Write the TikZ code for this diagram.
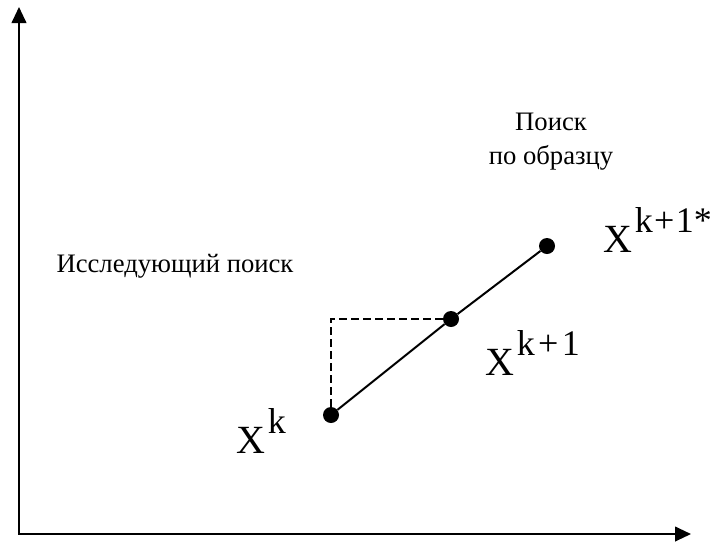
\documentclass[tikz,border=0pt]{standalone}
\usepackage{fontspec}
\setmainfont{Liberation Serif}
\newfontfamily\rufont[Script=Cyrillic]{Liberation Serif}
\usetikzlibrary{arrows.meta}
\newcommand\bigX[1]{{\fontsize{30}{30}\selectfont X\hspace{2pt}\raisebox{14.5pt}{\fontsize{27}{27}\selectfont #1}}}

\begin{document}
\begin{tikzpicture}[x=0.75pt,y=-0.75pt,>={Triangle[length=12pt,width=11pt]}]
\tikzstyle{axis}=[line width=1.5pt]
\tikzstyle{dot}=[circle,fill=black,inner sep=0pt,minimum size=12pt]
\tikzstyle{lbl}=[inner sep=0pt,font=\rufont\fontsize{20}{25}\selectfont]
\tikzstyle{pt}=[inner sep=0pt,anchor=base west]
\useasboundingbox (0,0) rectangle (713,544);
% axes
\coordinate (ytop) at (19,7);
\coordinate (xend) at (691,534);
\draw[axis,<->] (ytop) |- (xend);
% points
\node[dot] (xk) at (331,415) {};
\node[dot] (xk1) at (451,319) {};
\node[dot] (xks) at (547,246) {};
\draw[line width=1.5pt] (xk)--(xk1)--(xks);
\draw[line width=1.5pt,dash pattern=on 5.5pt off 3.5pt] (xk) |- (xk1);
% labels
\node[pt] (lk) at (236,453) {\bigX{k}};
\node[pt] (lk1) at (485,375) {\bigX{k\hspace{2.5pt}+\hspace{2.5pt}1}};
\node[pt] (lks) at (603,252) {\bigX{k\hspace{1pt}+\hspace{1pt}1*}};
\node[lbl,anchor=base] (expl) at (175,272) {Исследующий поиск};
\node[lbl,align=center,anchor=base] (patt) at (551,164) {Поиск\\по образцу};
\end{tikzpicture}
\end{document}
